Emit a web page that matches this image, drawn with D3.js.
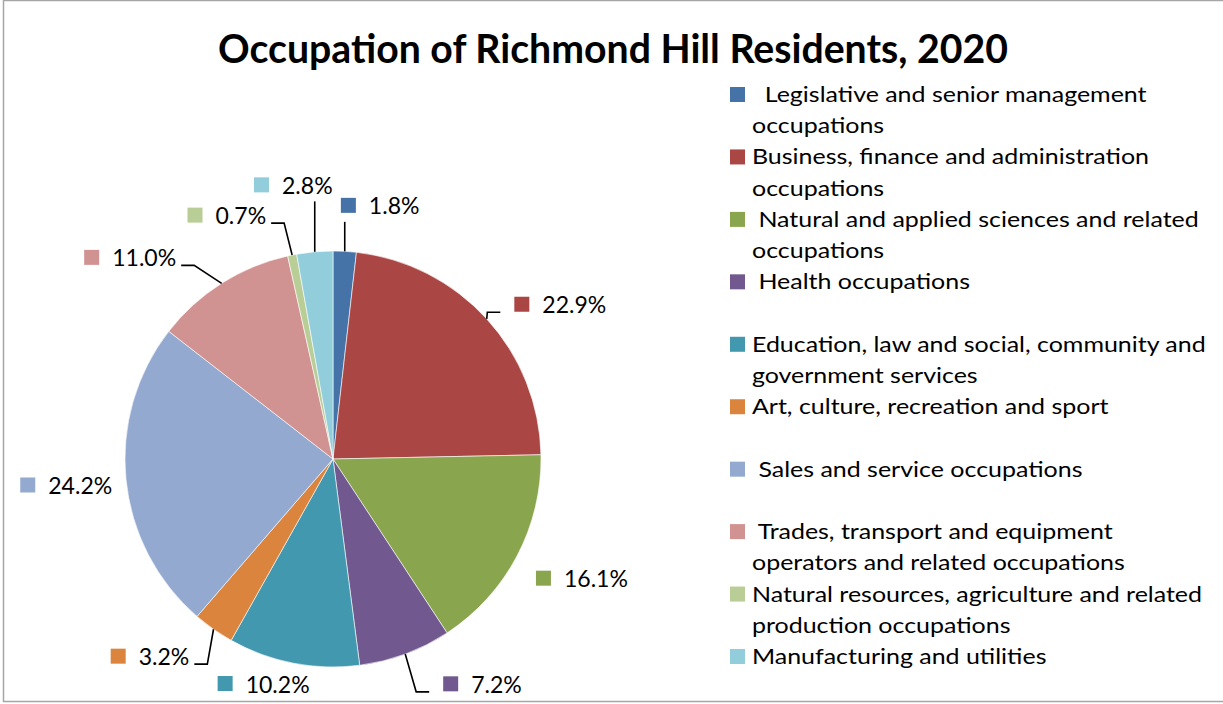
<!DOCTYPE html>
<html lang="en">
<head>
    <meta charset="UTF-8">
    <title>Occupation of Richmond Hill Residents, 2020</title>
    <script src="https://cdn.jsdelivr.net/npm/d3@7/dist/d3.min.js"></script>
    <style>
        html, body { margin: 0; padding: 0; background: #fff; }
        svg { display: block; }
        text { font-family: Lato, "Open Sans", sans-serif; fill: #000; white-space: pre; }
    </style>
</head>
<body>
    <div id="chart"></div>

    <script>
        // categories (a "\n" marks where the legend text wraps)
        const categories = [
            "  Legislative and senior management\noccupations",
            "Business, finance and administration\noccupations",
            " Natural and applied sciences and related\noccupations",
            " Health occupations",
            "Education, law and social, community and\ngovernment services",
            "Art, culture, recreation and sport",
            " Sales and service occupations",
            " Trades, transport and equipment\noperators and related occupations",
            "Natural resources, agriculture and related\nproduction occupations",
            "Manufacturing and utilities"
        ];
        // share of residents, %
        const shares = [1.8, 22.9, 16.1, 7.2, 10.2, 3.2, 24.2, 11.0, 0.7, 2.8];
        const colors = ["#4572A7", "#AA4643", "#89A54E", "#71588F", "#4198AF",
                        "#DB843D", "#93A9CF", "#D19392", "#B9CD96", "#92CDDC"];

        // label placement: angle nudge (deg) from slice middle, distance from centre
        const labelNudge = [7.3, 8.1, -2.2, -13.3, 6.2, 7.8, 0.1, -12.8, -12.2, -3.2];
        const labelDist = [258, 275, 276, 270, 235, 269, 268, 286, 266, 277];

        const width = 1223, height = 704;
        const cx = 333, cy = 459, radius = 208;

        const data = categories.map((c, i) => ({ name: c, value: shares[i], color: colors[i], i: i }));

        const svg = d3.select("#chart").append("svg")
            .attr("width", width)
            .attr("height", height);

        // frame
        svg.append("rect")
            .attr("x", 3.5).attr("y", 0.5)
            .attr("width", 1230).attr("height", 701)
            .attr("fill", "#fff")
            .attr("stroke", "#a6a6a6")
            .attr("stroke-width", 1.5);

        // title, squeezed horizontally to the original width
        const title = svg.append("text")
            .attr("font-size", 40)
            .attr("font-weight", 700)
            .attr("text-anchor", "middle")
            .text("Occupation of Richmond Hill Residents, 2020");
        const tw = title.node().getComputedTextLength();
        title.attr("transform", `translate(613,63) scale(${790 / tw},1)`);

        // pie
        const pie = d3.pie().sort(null).value(d => d.value);
        const arc = d3.arc().innerRadius(0).outerRadius(radius);
        const arcs = pie(data);

        const g = svg.append("g").attr("transform", `translate(${cx},${cy})`);
        g.selectAll("path")
            .data(arcs)
            .join("path")
            .attr("d", arc)
            .attr("fill", d => d.data.color)
            .attr("stroke", "#fff")
            .attr("stroke-width", 0.6);

        // data labels
        const fmt = d => d3.format(".1f")(d) + "%";
        const labelFont = 24;
        const probe = svg.append("text").attr("font-size", labelFont).text("24.2%");
        const labelSx = 64 / probe.node().getComputedTextLength();
        probe.remove();

        const labels = g.append("g");
        arcs.forEach(d => {
            const i = d.data.i;
            const mid = (d.startAngle + d.endAngle) / 2;
            const a = mid + labelNudge[i] * Math.PI / 180;
            const lx = labelDist[i] * Math.sin(a);
            const ly = -labelDist[i] * Math.cos(a);

            const lab = labels.append("g");
            const t = lab.append("text")
                .attr("font-size", labelFont)
                .text(fmt(d.data.value));
            const textW = t.node().getComputedTextLength() * labelSx;
            const boxW = 28 + textW;
            const left = lx - boxW / 2, right = lx + boxW / 2;
            const top = ly - 7.5, bottom = ly + 7.5;

            lab.append("rect")
                .attr("x", left).attr("y", top)
                .attr("width", 15).attr("height", 15)
                .attr("fill", d.data.color);
            t.attr("transform", `translate(${left + 28},${ly + 9}) scale(${labelSx},1)`);

            // leader line when the label sits away from its slice
            const ex = radius * Math.sin(mid), ey = -radius * Math.cos(mid);
            const dx = Math.max(left - ex, 0, ex - right);
            const dy = Math.max(top - ey, 0, ey - bottom);
            if (Math.hypot(dx, dy) > 25) {
                let pts;
                if (ex >= left && ex <= right) {
                    const yEnd = ey > ly ? bottom + 9 : top - 9;
                    pts = [[ex, ey], [ex, yEnd]];
                } else if (ex > right) {
                    const yh = ly + 8;
                    pts = [[ex, ey], [right + 18, yh], [right + 5, yh]];
                } else {
                    const yh = ly + 8;
                    pts = [[ex, ey], [left - 27, yh], [left - 14, yh]];
                }
                labels.append("path")
                    .attr("d", d3.line()(pts))
                    .attr("fill", "none")
                    .attr("stroke", "#000")
                    .attr("stroke-width", 1.6);
            }
        });

        // legend
        const legendFont = 22;
        const legendY = d3.scaleLinear().domain([0, categories.length - 1]).range([87, 649]);
        const probe2 = svg.append("text").attr("font-size", legendFont)
            .text("Education, law and social, community and");
        const legendSx = 454 / probe2.node().getComputedTextLength();
        probe2.remove();

        const legend = svg.append("g");
        data.forEach((d, i) => {
            const y0 = legendY(i);
            legend.append("rect")
                .attr("x", 730).attr("y", y0)
                .attr("width", 15).attr("height", 15)
                .attr("fill", d.color);
            const t = legend.append("text")
                .attr("font-size", legendFont)
                .attr("transform", `translate(752,${y0 + 15}) scale(${legendSx},1)`);
            d.name.split("\n").forEach((line, k) => {
                t.append("tspan")
                    .attr("x", 0)
                    .attr("y", k * 31.3)
                    .text(line);
            });
        });
    </script>
</body>
</html>
